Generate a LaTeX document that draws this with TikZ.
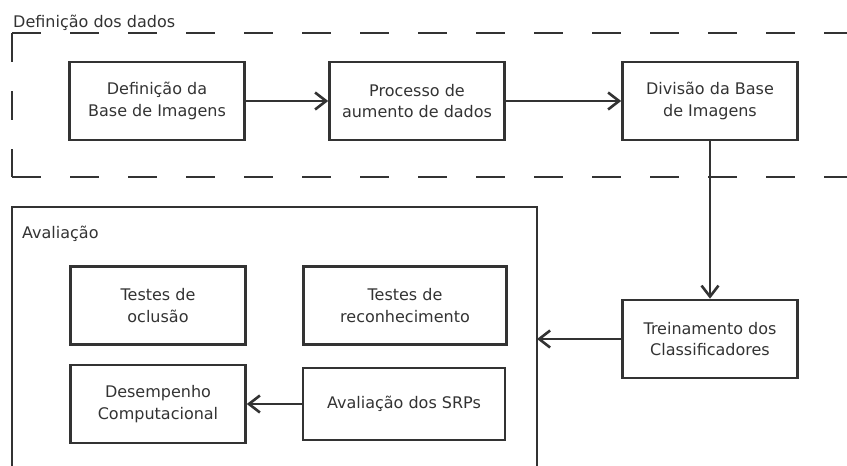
\documentclass[tikz,border=0pt]{standalone}
\usepackage{fontspec}
\setmainfont{DejaVu Sans}
\usepackage{tikz}
\usetikzlibrary{arrows.meta,positioning}
\usepackage{xcolor}
\definecolor{dfcinza}{RGB}{51,51,51}
\tikzstyle{seta} = [line width=2.6pt,-{Straight Barb[length=11pt,width=17pt]},color=dfcinza]
\tikzstyle{etapa} = [rectangle, minimum width=175pt, minimum height=78pt, align=center, draw=dfcinza, text=dfcinza, line width=2.6pt, font=\fontsize{16}{21.7}\selectfont]
\tikzstyle{tracejado} = [line width=2.6pt, dash pattern=on 28.5pt off 29.5pt, color=dfcinza]
\tikzstyle{moldura} = [line width=2.6pt, color=dfcinza]
\tikzstyle{rotulo} = [anchor=base west, inner sep=0pt, text=dfcinza, font=\fontsize{16}{20}\selectfont]

\begin{document}
\begin{tikzpicture}[x=1pt, y=-1pt, node distance=260pt, auto]
\useasboundingbox (0,0) rectangle (847,466);
% Frames
\coordinate (dadosNO) at (12,33);
\coordinate (dadosNE) at (847,33);
\coordinate (dadosSO) at (12,177);
\coordinate (dadosSE) at (847,177);
\draw[tracejado] (dadosNO) -- (dadosNE);
\draw[tracejado] (dadosNO) -- (dadosSO);
\draw[tracejado] (dadosSO) -- (dadosSE);
\node (dadostit) [rotulo] at (13,27) {Definição dos dados};

\coordinate (avalSO) at (12,470);
\coordinate (avalNO) at (12,207);
\coordinate (avalNE) at (537,207);
\coordinate (avalSE) at (537,470);
\draw[moldura] (avalSO) -- (avalNO) -- (avalNE) -- (avalSE);
\node (avaltit) [rotulo] at (22,238) {Avaliação};

% Nodes
\node (basedef) [etapa] at (157,101) {Definição da\\Base de Imagens};
\node (aumento) [etapa, right of=basedef] {Processo de\\aumento de dados};
\node (divisao) [etapa, right of=aumento, xshift=33pt] {Divisão da Base\\de Imagens};
\node (treino) [etapa, below of=divisao, yshift=22pt] {Treinamento dos\\Classificadores};
\node (oclusao) [etapa] at (158,305.5) {Testes de\\oclusão};
\node (reconhec) [etapa, right of=oclusao, xshift=-13pt, minimum width=203pt] {Testes de\\reconhecimento};
\node (desempenho) [etapa] at (158,404) {Desempenho\\Computacional};
\node (srps) [etapa, right of=desempenho, xshift=-14pt, minimum width=202pt, minimum height=72pt] {Avaliação dos SRPs};

% Arrows
\draw[seta] (basedef) -- (aumento);
\draw[seta] (aumento) -- (divisao);
\draw[seta] (divisao) -- (treino);
\draw[seta] (treino) -- (treino -| avalNE);
\draw[seta] (srps) -- (desempenho);
\end{tikzpicture}
\end{document}
